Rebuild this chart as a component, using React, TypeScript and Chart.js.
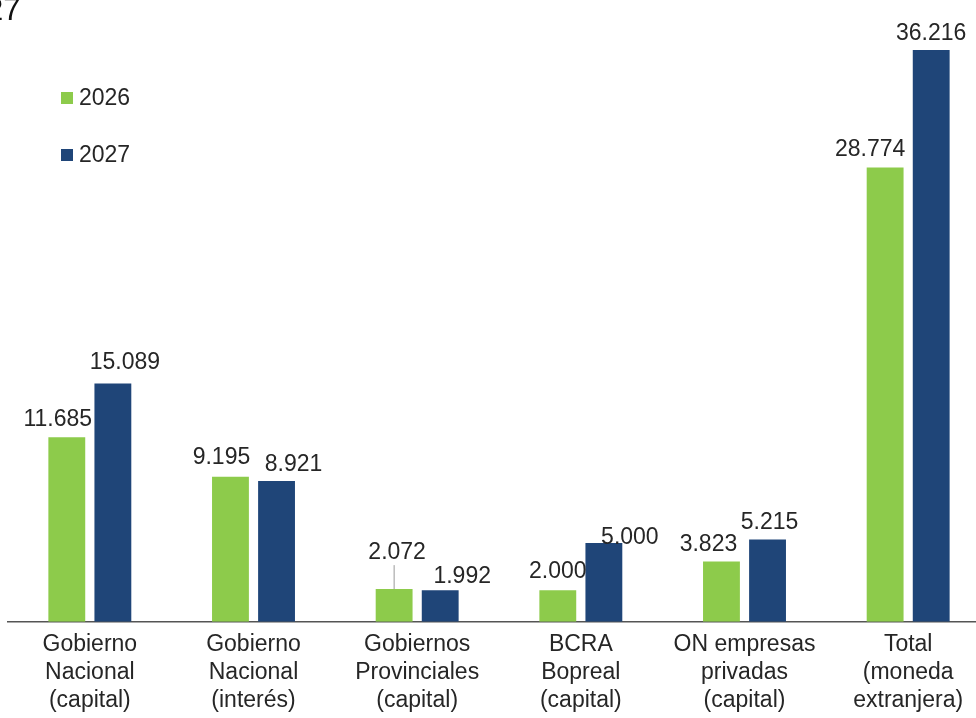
import React, { useEffect, useRef } from "react";
import { Chart, registerables } from "chart.js";

Chart.register(...registerables);

const categories: string[][] = [
  ["Gobierno", "Nacional", "(capital)"],
  ["Gobierno", "Nacional", "(interés)"],
  ["Gobiernos", "Provinciales", "(capital)"],
  ["BCRA", "Bopreal", "(capital)"],
  ["ON empresas", "privadas", "(capital)"],
  ["Total", "(moneda", "extranjera)"],
];
const seriesNames = ["2026", "2027"];
const values2026 = [11685, 9195, 2072, 2000, 3823, 28774];
const values2027 = [15089, 8921, 1992, 5000, 5215, 36216];

// label placement tweaks (style only)
const labelDx = [
  [-9, -9, 3, 0, -13, -15],
  [12, 17, 22, 26, 2, 0],
];
const labelDy = [
  [1, 3, 20, 2, 0, 2],
  [5, 0, -3, 0, 0, 0],
];
const leader = [
  [false, false, true, false, false, false],
  [false, false, false, false, false, false],
];
const labelGapOverride: (number | null)[][] = [
  [null, null, null, null, null, null],
  [null, null, null, -1, null, null],
];

const GREEN = "#8DCB4B";
const BLUE = "#1F4578";
const FONT = "'Liberation Sans', Arial, sans-serif";

const fmt = (v: number) =>
  Math.round(v)
    .toString()
    .replace(/\B(?=(\d{3})+(?!\d))/g, ".");

const valueLabels = {
  id: "valueLabels",
  afterDatasetsDraw(chart: any) {
    const ctx = chart.ctx;
    ctx.save();
    ctx.font = `23px ${FONT}`;
    ctx.fillStyle = "#262626";
    ctx.textAlign = "center";
    ctx.textBaseline = "alphabetic";
    chart.data.datasets.forEach((ds: any, i: number) => {
      const meta = chart.getDatasetMeta(i);
      meta.data.forEach((bar: any, j: number) => {
        const gapO = labelGapOverride[i][j];
        const gap = gapO !== null ? gapO : 10 + labelDy[i][j];
        const x = bar.x + labelDx[i][j];
        const y = bar.y - gap;
        ctx.fillText(fmt(ds.data[j]), x, y);
        if (leader[i][j]) {
          ctx.save();
          ctx.strokeStyle = "#9a9a9a";
          ctx.lineWidth = 1;
          ctx.beginPath();
          ctx.moveTo(bar.x, y + 6);
          ctx.lineTo(bar.x, bar.y);
          ctx.stroke();
          ctx.restore();
        }
      });
    });
    ctx.restore();
  },
};

const innerLegend = {
  id: "innerLegend",
  afterDraw(chart: any) {
    const ctx = chart.ctx;
    ctx.save();
    ctx.font = `23px ${FONT}`;
    ctx.textBaseline = "middle";
    ctx.textAlign = "left";
    chart.data.datasets.forEach((ds: any, i: number) => {
      const y = 98 + i * 57;
      ctx.fillStyle = ds.backgroundColor;
      ctx.fillRect(61, y - 6, 12, 12);
      ctx.fillStyle = "#262626";
      ctx.fillText(ds.label, 79, y + 1);
    });
    ctx.restore();
  },
};

export default function App() {
  const ref = useRef<HTMLCanvasElement | null>(null);
  useEffect(() => {
    if (!ref.current) return;
    const chart = new Chart(ref.current, {
      type: "bar",
      data: {
        labels: categories as any,
        datasets: [
          {
            label: seriesNames[0],
            data: values2026,
            backgroundColor: GREEN,
            categoryPercentage: 0.563,
            barPercentage: 0.8,
          },
          {
            label: seriesNames[1],
            data: values2027,
            backgroundColor: BLUE,
            categoryPercentage: 0.563,
            barPercentage: 0.8,
          },
        ],
      },
      options: {
        responsive: false,
        animation: false,
        layout: { padding: { left: 8, right: 5, top: 0, bottom: 4 } },
        plugins: {
          legend: { display: false },
          tooltip: { enabled: false },
          title: { display: false },
        },
        scales: {
          x: {
            grid: { display: false, drawTicks: false },
            border: { display: true, color: "#555555", width: 1.5 },
            ticks: {
              color: "#262626",
              font: { family: FONT, size: 23, lineHeight: 1.22 },
              padding: 9,
              maxRotation: 0,
              autoSkip: false,
            },
          },
          y: {
            display: false,
            min: 0,
            max: 39390,
          },
        },
      },
      plugins: [valueLabels, innerLegend],
    });
    return () => chart.destroy();
  }, []);

  return (
    <div
      style={{
        position: "fixed",
        left: 0,
        top: 0,
        width: 976,
        height: 718,
        overflow: "hidden",
        background: "#fff",
      }}
    >
      <canvas
        ref={ref}
        width={995}
        height={728}
        style={{ position: "absolute", left: 0, top: 0, width: 995, height: 728 }}
      />
      <div
        style={{
          position: "absolute",
          left: -14,
          top: -8,
          fontFamily: FONT,
          fontSize: 31,
          color: "#111",
          lineHeight: "36px",
        }}
      >
        27
      </div>
    </div>
  );
}
